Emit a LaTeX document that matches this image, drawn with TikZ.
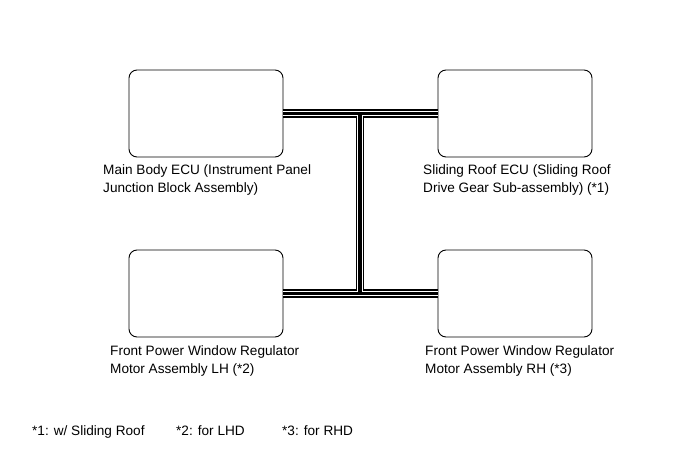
\documentclass[tikz,border=0pt]{standalone}
\usepackage{fontspec}
\setmainfont{Liberation Sans}
\begin{document}
\begin{tikzpicture}[x=1pt,y=-1pt,
  ecu/.style={draw, rounded corners=8pt, line width=0.9pt, minimum width=154pt, minimum height=87pt, inner sep=0pt},
  lbl/.style={anchor=base west, align=left, font=\fontsize{13.6}{18}\selectfont, inner sep=0pt},
]
\useasboundingbox[fill=white] (0,0) rectangle (691,465);
\node[ecu] (tl) at (206,113.5) {};
\node[ecu] (tr) at (515,113.5) {};
\node[ecu] (bl) at (206,293.5) {};
\node[ecu] (br) at (515,293.5) {};
\coordinate (jt) at (360,113.5);
\coordinate (jb) at (360,293.5);
\foreach \w/\c in {8.6/black,5.6/white,3.2/black}{
  \draw[line width=\w pt, \c] (tl.east) -- (tr.west) (jt) -- (jb) (bl.east) -- (br.west);
}
\node[lbl] (tlt) at (103,193) {Main Body ECU (Instrument Panel\\Junction Block Assembly)};
\node[lbl] (trt) at (423,193) {Sliding Roof ECU (Sliding Roof\\Drive Gear Sub-assembly) (*1)};
\node[lbl] (blt) at (110,373) {Front Power Window Regulator\\Motor Assembly LH (*2)};
\node[lbl] (brt) at (425,373) {Front Power Window Regulator\\Motor Assembly RH (*3)};
\node[lbl] (n1) at (32,435) {*1: w/ Sliding Roof};
\node[lbl] (n2) at (176,435) {*2: for LHD};
\node[lbl] (n3) at (282,435) {*3: for RHD};
\end{tikzpicture}
\end{document}
